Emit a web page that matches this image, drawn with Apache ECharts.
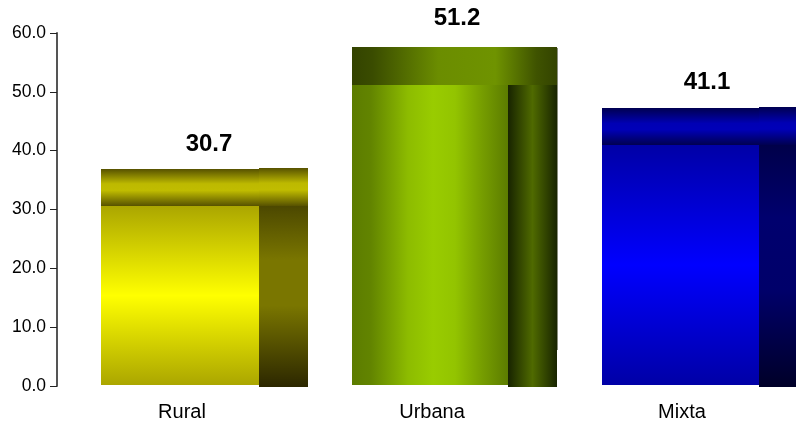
<!DOCTYPE html>
<html>
<head>
<meta charset="utf-8">
<style>html,body{margin:0;padding:0;background:#fff}#chart{width:796px;height:422px}</style>
<script src="https://cdn.jsdelivr.net/npm/echarts@6/dist/echarts.min.js"></script>
</head>
<body>
<div id="chart"></div>
<script>
// Zone types and their percentages
const categories = ['Rural', 'Urbana', 'Mixta'];
const values = [30.7, 51.2, 41.1];
const yTicks = [0, 10, 20, 30, 40, 50, 60];

// Colour stops of each shaded face, one entry per bar
const frontStops = [
  [[0, '#aba600'], [0.5, '#ffff00'], [1, '#aba600']],
  [[0, '#5c7c00'], [0.12, '#628400'], [0.36, '#8dbc00'], [0.52, '#99cc00'], [0.66, '#93c400'], [0.84, '#759c00'], [1, '#5c7c00']],
  [[0, '#0000a6'], [0.5, '#0000ff'], [1, '#0000a6']]
];
const capStops = [
  [[0, '#575200'], [0.4, '#bdb900'], [0.58, '#c0bc00'], [1, '#575200']],
  [[0, '#334300'], [0.1, '#3a4c00'], [0.42, '#6b8d00'], [0.7, '#6f9300'], [0.9, '#3f5300'], [1, '#334300']],
  [[0, '#000050'], [0.42, '#0000b4'], [0.58, '#0000b8'], [1, '#000050']]
];
const sideStops = [
  [[0, '#4c4800'], [0.3, '#7a7600'], [0.55, '#7a7600'], [1, '#2c2700']],
  [[0, '#182400'], [0.5, '#4f6a00'], [1, '#182400']],
  [[0, '#00004a'], [0.3, '#00006e'], [0.6, '#00006a'], [1, '#000028']]
];
// Rural and Mixta shade top to bottom, Urbana shades left to right
const shadeVertical = [true, false, true];
const frontWidths = [158, 156, 157];
const capHeights = [37, 38, 37];
const labelNudgeX = [3, 0, 0];
const labelNudgeY = [0, -4, -1];

const SIDE_W = 49;

function gradient(vertical, stops) {
  return new echarts.graphic.LinearGradient(0, 0, vertical ? 0 : 1, vertical ? 1 : 0,
    stops.map(s => ({ offset: s[0], color: s[1] })));
}

function renderBar(params, api) {
  const i = api.value(0);
  const base = api.coord([i, 0]);
  const top = api.coord([i, api.value(1)]);
  const left = Math.round(base[0]) - 80 - (i === 0 ? 1 : 0);
  const yTop = Math.ceil(top[1]);
  const yBase = Math.round(base[1]);
  const frontH = yBase - yTop;
  const frontW = frontWidths[i];
  const capH = capHeights[i];
  const v = shadeVertical[i];
  const rect = (x, y, width, height, fill) => ({
    type: 'rect', shape: { x, y, width, height }, style: { fill }
  });
  const children = [];
  // Faint edge on the right of the horizontally shaded bar
  if (!v) {
    children.push(rect(left + frontW + SIDE_W, yTop - capH + 1, 1, yBase - 36 - yTop + capH - 1, '#8a8f7c'));
  }
  children.push(
    rect(left, yTop, frontW, frontH - 1, gradient(v, frontStops[i])),
    rect(left + frontW, yTop, SIDE_W, frontH + 1, gradient(v, sideStops[i])),
    rect(left, yTop - capH, frontW + SIDE_W, capH, gradient(v, capStops[i]))
  );
  if (v) {
    children.push(rect(left + frontW, yTop - capH - 1, SIDE_W, capH + 1, gradient(v, capStops[i])));
  }
  children.push({
    type: 'text',
    style: {
      text: api.value(1).toFixed(1),
      x: left + 105 + labelNudgeX[i],
      y: yTop - capH - 25 + labelNudgeY[i],
      align: 'center', verticalAlign: 'middle',
      font: 'bold 24px "Liberation Sans", Arial, sans-serif',
      fill: '#000'
    }
  });
  return { type: 'group', children };
}

const chart = echarts.init(document.getElementById('chart'), null, { renderer: 'canvas' });
chart.setOption({
  animation: false,
  backgroundColor: '#fff',
  grid: { left: 57, top: 33, width: 750, height: 353, outerBoundsMode: 'none' },
  xAxis: {
    type: 'category',
    data: categories,
    axisLine: { show: false },
    axisTick: { show: false },
    axisLabel: {
      margin: 16,
      fontSize: 20,
      fontFamily: '"Liberation Sans", Arial, sans-serif',
      color: '#000'
    }
  },
  yAxis: {
    type: 'value',
    min: yTicks[0],
    max: yTicks[yTicks.length - 1],
    interval: 10,
    splitLine: { show: false },
    axisLine: { show: true, lineStyle: { color: '#555', width: 2 } },
    axisTick: { show: true, length: 7, lineStyle: { color: '#222', width: 1 } },
    axisLabel: {
      margin: 11,
      fontSize: 17.5,
      fontFamily: '"Liberation Sans", Arial, sans-serif',
      color: '#000',
      formatter: v => v.toFixed(1)
    }
  },
  series: [{
    type: 'custom',
    clip: false,
    renderItem: renderBar,
    encode: { x: 0, y: 1 },
    data: values.map((v, i) => [i, v])
  }]
});
</script>
</body>
</html>
